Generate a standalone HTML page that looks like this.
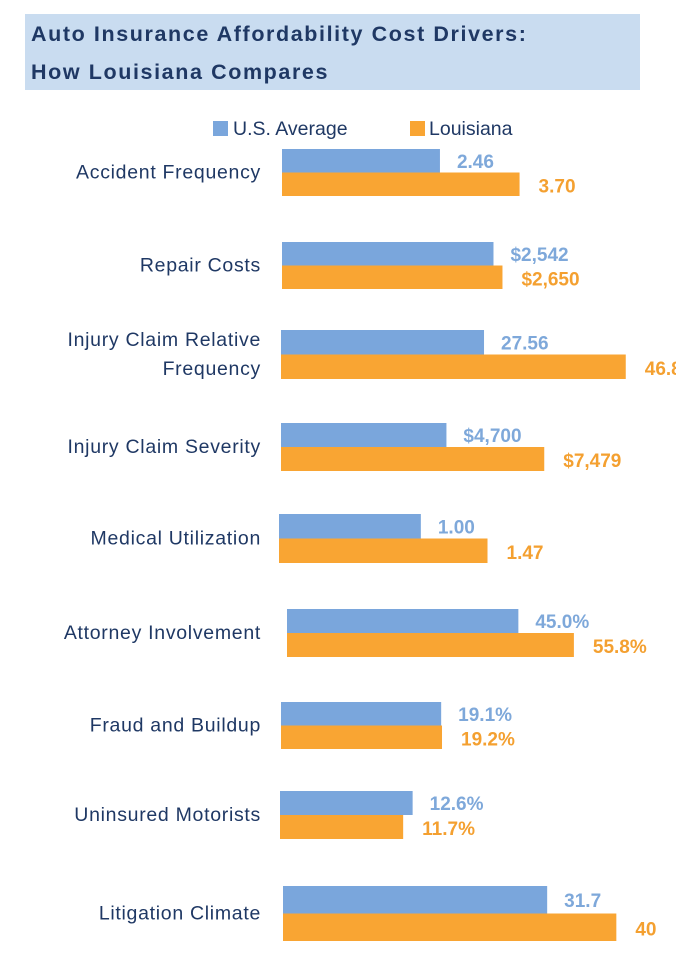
<!DOCTYPE html>
<html><head><meta charset="utf-8"><style>
html,body{margin:0;padding:0;background:#fff;width:676px;height:974px;overflow:hidden;font-family:"Liberation Sans",sans-serif}
#title{position:absolute;left:25px;top:14px;width:615px;height:76px;background:#c9dcf0}
.tl{position:absolute;left:6px;color:#1f3864;font-weight:bold;font-size:21.5px;letter-spacing:1.6px;white-space:nowrap}
svg{position:absolute;left:0;top:0}
</style></head><body>
<div id="title">
<div class="tl" style="top:8px">Auto Insurance Affordability Cost Drivers:</div>
<div class="tl" style="top:46px">How Louisiana Compares</div>
</div>
<svg id="chart" width="676" height="974">
<g>
<rect x="213" y="121" width="15" height="15" fill="#7aa6dc"/>
<text x="233" y="135" font-size="19.5" fill="#1f3864">U.S. Average</text>
<rect x="410" y="121" width="15" height="15" fill="#f9a533"/>
<text x="429" y="135" font-size="19.5" fill="#1f3864">Louisiana</text>
</g>
</svg>
<script>
const categories=[["Accident Frequency"],["Repair Costs"],["Injury Claim Relative","Frequency"],["Injury Claim Severity"],["Medical Utilization"],["Attorney Involvement"],["Fraud and Buildup"],["Uninsured Motorists"],["Litigation Climate"]];
const usValues=[2.46,2542,27.56,4700,1.00,45.0,19.1,12.6,31.7];
const laValues=[3.70,2650,46.8,7479,1.47,55.8,19.2,11.7,40];
const usLabels=["2.46","$2,542","27.56","$4,700","1.00","45.0%","19.1%","12.6%","31.7"];
const laLabels=["3.70","$2,650","46.8","$7,479","1.47","55.8%","19.2%","11.7%","40"];
const axisMax=[6.23,4808,54.3,11364,2.82,77.8,47.7,38.0,48.0];
const rowTop=[149,242,330,423,514,609,702,791,886];
const rowX0=[282,282,281,281,279,287,281,280,283];
const barH=[23.5,23.5,24.5,24,24.5,24,23.5,24,27.5];
const AXW=400;
function xScale(i,v){return v/axisMax[i]*AXW;}
const svg=document.getElementById('chart');
const NS='http://www.w3.org/2000/svg';
function mk(tag,attrs){const e=document.createElementNS(NS,tag);for(const k in attrs)e.setAttribute(k,attrs[k]);svg.appendChild(e);return e;}
categories.forEach((cat,i)=>{
  const y0=rowTop[i],h=barH[i],x0=rowX0[i];
  const mid=y0+h;
  cat.forEach((line,j)=>{
    const t=mk('text',{x:261,y:mid+6+(j-(cat.length-1)/2)*29,'font-size':19.5,'letter-spacing':0.7,fill:'#1f3864','text-anchor':'end'});
    t.textContent=line;
    
    
  });
  const wu=xScale(i,usValues[i]),wl=xScale(i,laValues[i]);
  const b1=mk('rect',{x:x0,y:y0,width:wu,height:h,fill:'#7aa6dc'});
  
  
  const b2=mk('rect',{x:x0,y:y0+h,width:wl,height:h,fill:'#f9a533'});
  
  
  const t1=mk('text',{x:x0+wu+17,y:y0+h/2+7,'font-size':19,'font-weight':'bold',fill:'#7ea8da'});
  t1.textContent=usLabels[i];
  
  
  const t2=mk('text',{x:x0+wl+19,y:y0+h*1.5+8,'font-size':19,'font-weight':'bold',fill:'#f4a030'});
  t2.textContent=laLabels[i];
  
  
});
</script>
</body></html>
